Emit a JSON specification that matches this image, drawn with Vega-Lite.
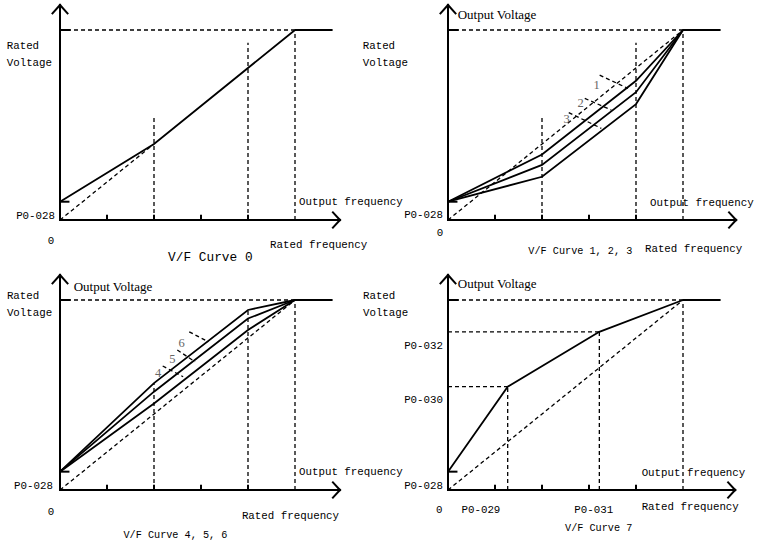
{
  "$schema": "https://vega.github.io/schema/vega-lite/v6.json",
  "autosize": {"type": "pad"},
  "padding": 0,
  "bounds": "flush",
  "background": "white",
  "config": {"view": {"stroke": null}},
  "data": {"values": [
    {"p":1,"k":"axis","x":0,"y":0,"x2":0,"y2":4.526},
    {"p":1,"k":"axis","x":0,"y":0,"x2":5.957,"y2":0},
    {"p":1,"k":"axis","x":-0.16,"y":4.35,"x2":0,"y2":4.526},
    {"p":1,"k":"axis","x":0.16,"y":4.35,"x2":0,"y2":4.526},
    {"p":1,"k":"axis","x":5.807,"y":0.16,"x2":5.957,"y2":0},
    {"p":1,"k":"axis","x":5.807,"y":-0.16,"x2":5.957,"y2":0},
    {"p":1,"k":"axis","x":1,"y":0,"x2":1,"y2":0.09},
    {"p":1,"k":"axis","x":2,"y":0,"x2":2,"y2":0.09},
    {"p":1,"k":"axis","x":3,"y":0,"x2":3,"y2":0.09},
    {"p":1,"k":"axis","x":4,"y":0,"x2":4,"y2":0.09},
    {"p":1,"k":"axis","x":0,"y":4,"x2":0.2,"y2":4},
    {"p":1,"k":"axis","x":0,"y":0.385,"x2":0.18,"y2":0.385},
    {"p":1,"k":"curve","x":5,"y":4,"x2":5.8,"y2":4},
    {"p":1,"k":"guide","x":0,"y":4,"x2":5,"y2":4},
    {"p":1,"k":"guide","x":5,"y":0,"x2":5,"y2":4},
    {"p":1,"k":"guide","x":0,"y":0,"x2":2,"y2":1.6},
    {"p":1,"k":"guide","x":2,"y":0,"x2":2,"y2":2.21},
    {"p":1,"k":"guide","x":4,"y":0,"x2":4,"y2":3.73},
    {"p":1,"id":"c0","i":0,"x":0,"y":0.385},
    {"p":1,"id":"c0","i":1,"x":2,"y":1.6},
    {"p":1,"id":"c0","i":2,"x":5,"y":4},
    {"p":1,"role":"note","x":-1.134,"y":3.66,"t":"Rated"},
    {"p":1,"role":"note","x":-1.134,"y":3.31,"t":"Voltage"},
    {"p":1,"role":"ylab","x":-0.106,"y":0.08,"t":"P0-028"},
    {"p":1,"role":"xlab","x":-0.19,"y":-0.44,"t":"0"},
    {"p":1,"role":"note","x":5.085,"y":0.385,"t":"Output frequency"},
    {"p":1,"role":"note","x":4.47,"y":-0.526,"t":"Rated frequency"},
    {"p":1,"role":"cap","x":2.3,"y":-0.77,"t":"V/F Curve 0"},

    {"p":2,"k":"axis","x":0,"y":0,"x2":0,"y2":4.526},
    {"p":2,"k":"axis","x":0,"y":0,"x2":6.13,"y2":0},
    {"p":2,"k":"axis","x":-0.16,"y":4.35,"x2":0,"y2":4.526},
    {"p":2,"k":"axis","x":0.16,"y":4.35,"x2":0,"y2":4.526},
    {"p":2,"k":"axis","x":5.98,"y":0.16,"x2":6.13,"y2":0},
    {"p":2,"k":"axis","x":5.98,"y":-0.16,"x2":6.13,"y2":0},
    {"p":2,"k":"axis","x":1,"y":0,"x2":1,"y2":0.09},
    {"p":2,"k":"axis","x":2,"y":0,"x2":2,"y2":0.09},
    {"p":2,"k":"axis","x":3,"y":0,"x2":3,"y2":0.09},
    {"p":2,"k":"axis","x":4,"y":0,"x2":4,"y2":0.09},
    {"p":2,"k":"axis","x":0,"y":4,"x2":0.2,"y2":4},
    {"p":2,"k":"axis","x":0,"y":0.385,"x2":0.18,"y2":0.385},
    {"p":2,"k":"curve","x":5,"y":4,"x2":5.8,"y2":4},
    {"p":2,"k":"guide","x":0,"y":4,"x2":5,"y2":4},
    {"p":2,"k":"guide","x":5,"y":0,"x2":5,"y2":4},
    {"p":2,"k":"guide","x":0,"y":0,"x2":5,"y2":4},
    {"p":2,"k":"guide","x":2,"y":0,"x2":2,"y2":2.21},
    {"p":2,"k":"guide","x":4,"y":0,"x2":4,"y2":3.73},
    {"p":2,"k":"guide","x":3.227,"y":3.05,"x2":3.83,"y2":2.77},
    {"p":2,"k":"guide","x":2.91,"y":2.56,"x2":3.475,"y2":2.316},
    {"p":2,"k":"guide","x":2.569,"y":2.26,"x2":3.262,"y2":1.93},
    {"p":2,"id":"c1","i":0,"x":0,"y":0.385},
    {"p":2,"id":"c1","i":1,"x":2,"y":1.38},
    {"p":2,"id":"c1","i":2,"x":4,"y":2.93},
    {"p":2,"id":"c1","i":3,"x":5,"y":4},
    {"p":2,"id":"c2","i":0,"x":0,"y":0.385},
    {"p":2,"id":"c2","i":1,"x":2,"y":1.16},
    {"p":2,"id":"c2","i":2,"x":4,"y":2.69},
    {"p":2,"id":"c2","i":3,"x":5,"y":4},
    {"p":2,"id":"c3","i":0,"x":0,"y":0.385},
    {"p":2,"id":"c3","i":1,"x":2,"y":0.91},
    {"p":2,"id":"c3","i":2,"x":4,"y":2.44},
    {"p":2,"id":"c3","i":3,"x":5,"y":4},
    {"p":2,"role":"title","x":0.206,"y":4.316,"t":"Output Voltage"},
    {"p":2,"role":"note","x":-1.815,"y":3.66,"t":"Rated"},
    {"p":2,"role":"note","x":-1.815,"y":3.31,"t":"Voltage"},
    {"p":2,"role":"ylab","x":-0.106,"y":0.1,"t":"P0-028"},
    {"p":2,"role":"xlab","x":-0.17,"y":-0.28,"t":"0"},
    {"p":2,"role":"note","x":4.3,"y":0.35,"t":"Output frequency"},
    {"p":2,"role":"note","x":4.19,"y":-0.6,"t":"Rated frequency"},
    {"p":2,"role":"cap","x":1.71,"y":-0.65,"t":"V/F Curve 1, 2, 3"},
    {"p":2,"role":"num","x":3.164,"y":2.84,"t":"1"},
    {"p":2,"role":"num","x":2.823,"y":2.47,"t":"2"},
    {"p":2,"role":"num","x":2.526,"y":2.12,"t":"3"},

    {"p":3,"k":"axis","x":0,"y":0,"x2":0,"y2":4.526},
    {"p":3,"k":"axis","x":0,"y":0,"x2":5.957,"y2":0},
    {"p":3,"k":"axis","x":-0.16,"y":4.35,"x2":0,"y2":4.526},
    {"p":3,"k":"axis","x":0.16,"y":4.35,"x2":0,"y2":4.526},
    {"p":3,"k":"axis","x":5.807,"y":0.16,"x2":5.957,"y2":0},
    {"p":3,"k":"axis","x":5.807,"y":-0.16,"x2":5.957,"y2":0},
    {"p":3,"k":"axis","x":1,"y":0,"x2":1,"y2":0.09},
    {"p":3,"k":"axis","x":2,"y":0,"x2":2,"y2":0.09},
    {"p":3,"k":"axis","x":3,"y":0,"x2":3,"y2":0.09},
    {"p":3,"k":"axis","x":4,"y":0,"x2":4,"y2":0.09},
    {"p":3,"k":"axis","x":0,"y":4,"x2":0.2,"y2":4},
    {"p":3,"k":"axis","x":0,"y":0.386,"x2":0.18,"y2":0.386},
    {"p":3,"k":"curve","x":5,"y":4,"x2":5.8,"y2":4},
    {"p":3,"k":"guide","x":0,"y":4,"x2":5,"y2":4},
    {"p":3,"k":"guide","x":5,"y":0,"x2":5,"y2":4},
    {"p":3,"k":"guide","x":0,"y":0,"x2":5,"y2":4},
    {"p":3,"k":"guide","x":2,"y":0,"x2":2,"y2":2.25},
    {"p":3,"k":"guide","x":4,"y":0,"x2":4,"y2":3.79},
    {"p":3,"k":"guide","x":2.75,"y":3.33,"x2":3.155,"y2":3.12},
    {"p":3,"k":"guide","x":2.496,"y":2.947,"x2":2.872,"y2":2.7},
    {"p":3,"k":"guide","x":2.185,"y":2.61,"x2":2.62,"y2":2.385},
    {"p":3,"id":"c4","i":0,"x":0,"y":0.386},
    {"p":3,"id":"c4","i":1,"x":2,"y":1.82},
    {"p":3,"id":"c4","i":2,"x":4,"y":3.37},
    {"p":3,"id":"c4","i":3,"x":5,"y":4},
    {"p":3,"id":"c5","i":0,"x":0,"y":0.386},
    {"p":3,"id":"c5","i":1,"x":2,"y":2.07},
    {"p":3,"id":"c5","i":2,"x":4,"y":3.61},
    {"p":3,"id":"c5","i":3,"x":5,"y":4},
    {"p":3,"id":"c6","i":0,"x":0,"y":0.386},
    {"p":3,"id":"c6","i":1,"x":2,"y":2.25},
    {"p":3,"id":"c6","i":2,"x":4,"y":3.79},
    {"p":3,"id":"c6","i":3,"x":5,"y":4},
    {"p":3,"role":"title","x":0.29,"y":4.28,"t":"Output Voltage"},
    {"p":3,"role":"note","x":-1.13,"y":4.08,"t":"Rated"},
    {"p":3,"role":"note","x":-1.13,"y":3.73,"t":"Voltage"},
    {"p":3,"role":"ylab","x":-0.15,"y":0.084,"t":"P0-028"},
    {"p":3,"role":"xlab","x":-0.19,"y":-0.46,"t":"0"},
    {"p":3,"role":"note","x":5.085,"y":0.386,"t":"Output frequency"},
    {"p":3,"role":"note","x":3.87,"y":-0.547,"t":"Rated frequency"},
    {"p":3,"role":"cap","x":1.35,"y":-0.947,"t":"V/F Curve 4, 5, 6"},
    {"p":3,"role":"num","x":2.09,"y":2.46,"t":"4"},
    {"p":3,"role":"num","x":2.39,"y":2.75,"t":"5"},
    {"p":3,"role":"num","x":2.59,"y":3.09,"t":"6"},

    {"p":4,"k":"axis","x":0,"y":0,"x2":0,"y2":4.526},
    {"p":4,"k":"axis","x":0,"y":0,"x2":6.11,"y2":0},
    {"p":4,"k":"axis","x":-0.16,"y":4.35,"x2":0,"y2":4.526},
    {"p":4,"k":"axis","x":0.16,"y":4.35,"x2":0,"y2":4.526},
    {"p":4,"k":"axis","x":5.96,"y":0.16,"x2":6.11,"y2":0},
    {"p":4,"k":"axis","x":5.96,"y":-0.16,"x2":6.11,"y2":0},
    {"p":4,"k":"axis","x":1,"y":0,"x2":1,"y2":0.09},
    {"p":4,"k":"axis","x":2,"y":0,"x2":2,"y2":0.09},
    {"p":4,"k":"axis","x":3,"y":0,"x2":3,"y2":0.09},
    {"p":4,"k":"axis","x":4,"y":0,"x2":4,"y2":0.09},
    {"p":4,"k":"axis","x":0,"y":4,"x2":0.2,"y2":4},
    {"p":4,"k":"axis","x":0,"y":0.386,"x2":0.18,"y2":0.386},
    {"p":4,"k":"curve","x":5,"y":4,"x2":5.8,"y2":4},
    {"p":4,"k":"guide","x":0,"y":4,"x2":5,"y2":4},
    {"p":4,"k":"guide","x":5,"y":0,"x2":5,"y2":4},
    {"p":4,"k":"guide","x":0,"y":0,"x2":5,"y2":4},
    {"p":4,"k":"guide","x":0,"y":3.33,"x2":3.22,"y2":3.33},
    {"p":4,"k":"guide","x":3.22,"y":0,"x2":3.22,"y2":3.33},
    {"p":4,"k":"guide","x":0,"y":2.175,"x2":1.27,"y2":2.175},
    {"p":4,"k":"guide","x":1.27,"y":0,"x2":1.27,"y2":2.175},
    {"p":4,"id":"c7","i":0,"x":0,"y":0.386},
    {"p":4,"id":"c7","i":1,"x":1.27,"y":2.175},
    {"p":4,"id":"c7","i":2,"x":3.22,"y":3.33},
    {"p":4,"id":"c7","i":3,"x":5,"y":4},
    {"p":4,"role":"title","x":0.21,"y":4.34,"t":"Output Voltage"},
    {"p":4,"role":"note","x":-1.81,"y":4.08,"t":"Rated"},
    {"p":4,"role":"note","x":-1.81,"y":3.73,"t":"Voltage"},
    {"p":4,"role":"ylab","x":-0.106,"y":3.03,"t":"P0-032"},
    {"p":4,"role":"ylab","x":-0.106,"y":1.89,"t":"P0-030"},
    {"p":4,"role":"ylab","x":-0.106,"y":0.084,"t":"P0-028"},
    {"p":4,"role":"xlab","x":-0.185,"y":-0.42,"t":"0"},
    {"p":4,"role":"xlab","x":0.7,"y":-0.42,"t":"P0-029"},
    {"p":4,"role":"xlab","x":3.1,"y":-0.42,"t":"P0-031"},
    {"p":4,"role":"note","x":4.12,"y":0.35,"t":"Output frequency"},
    {"p":4,"role":"note","x":4.12,"y":-0.365,"t":"Rated frequency"},
    {"p":4,"role":"cap","x":2.49,"y":-0.81,"t":"V/F Curve 7"}
  ]},
  "columns": 2,
  "spacing": {"row": 0, "column": 15},
  "concat": [
    {
      "width": 373, "height": 270,
      "transform": [{"filter": "datum.p == 1"}],
      "encoding": {
        "x": {"field": "x", "type": "quantitative", "axis": null, "scale": {"domain": [-1.2766, 6.6596], "nice": false, "zero": false}},
        "y": {"field": "y", "type": "quantitative", "axis": null, "scale": {"domain": [-1.0526, 4.6316], "nice": false, "zero": false}}
      },
      "layer": [
        {"transform": [{"filter": "datum.k == 'guide'"}], "mark": {"type": "rule", "color": "black", "strokeWidth": 1.3, "strokeDash": [4, 3]}, "encoding": {"x2": {"field": "x2"}, "y2": {"field": "y2"}}},
        {"transform": [{"filter": "datum.k == 'axis'"}], "mark": {"type": "rule", "color": "black", "strokeWidth": 2, "strokeCap": "square"}, "encoding": {"x2": {"field": "x2"}, "y2": {"field": "y2"}}},
        {"transform": [{"filter": "datum.k == 'curve'"}], "mark": {"type": "rule", "color": "black", "strokeWidth": 1.8}, "encoding": {"x2": {"field": "x2"}, "y2": {"field": "y2"}}},
        {"transform": [{"filter": "isValid(datum.id)"}], "mark": {"type": "line", "color": "black", "strokeWidth": 1.8}, "encoding": {"detail": {"field": "id"}, "order": {"field": "i", "type": "quantitative"}}},
        {"transform": [{"filter": "datum.role == 'note'"}], "mark": {"type": "text", "align": "left", "baseline": "middle", "font": "Liberation Mono", "fontSize": 10.8, "color": "#000"}, "encoding": {"text": {"field": "t"}}},
        {"transform": [{"filter": "datum.role == 'cap'"}], "mark": {"type": "text", "align": "left", "baseline": "middle", "font": "Liberation Mono", "fontSize": 12.8, "color": "#000"}, "encoding": {"text": {"field": "t"}}},
        {"transform": [{"filter": "datum.role == 'ylab'"}], "mark": {"type": "text", "align": "right", "baseline": "middle", "font": "Liberation Mono", "fontSize": 10.8, "color": "#000"}, "encoding": {"text": {"field": "t"}}},
        {"transform": [{"filter": "datum.role == 'xlab'"}], "mark": {"type": "text", "align": "center", "baseline": "middle", "font": "Liberation Mono", "fontSize": 10.8, "color": "#000"}, "encoding": {"text": {"field": "t"}}}
      ]
    },
    {
      "width": 373, "height": 270,
      "transform": [{"filter": "datum.p == 2"}],
      "encoding": {
        "x": {"field": "x", "type": "quantitative", "axis": null, "scale": {"domain": [-1.2766, 6.6596], "nice": false, "zero": false}},
        "y": {"field": "y", "type": "quantitative", "axis": null, "scale": {"domain": [-1.0526, 4.6316], "nice": false, "zero": false}}
      },
      "layer": [
        {"transform": [{"filter": "datum.k == 'guide'"}], "mark": {"type": "rule", "color": "black", "strokeWidth": 1.3, "strokeDash": [4, 3]}, "encoding": {"x2": {"field": "x2"}, "y2": {"field": "y2"}}},
        {"transform": [{"filter": "datum.k == 'axis'"}], "mark": {"type": "rule", "color": "black", "strokeWidth": 2, "strokeCap": "square"}, "encoding": {"x2": {"field": "x2"}, "y2": {"field": "y2"}}},
        {"transform": [{"filter": "datum.k == 'curve'"}], "mark": {"type": "rule", "color": "black", "strokeWidth": 1.8}, "encoding": {"x2": {"field": "x2"}, "y2": {"field": "y2"}}},
        {"transform": [{"filter": "isValid(datum.id)"}], "mark": {"type": "line", "color": "black", "strokeWidth": 1.8}, "encoding": {"detail": {"field": "id"}, "order": {"field": "i", "type": "quantitative"}}},
        {"transform": [{"filter": "datum.role == 'note'"}], "mark": {"type": "text", "align": "left", "baseline": "middle", "font": "Liberation Mono", "fontSize": 10.8, "color": "#000"}, "encoding": {"text": {"field": "t"}}},
        {"transform": [{"filter": "datum.role == 'cap'"}], "mark": {"type": "text", "align": "left", "baseline": "middle", "font": "Liberation Mono", "fontSize": 10.2, "color": "#000"}, "encoding": {"text": {"field": "t"}}},
        {"transform": [{"filter": "datum.role == 'ylab'"}], "mark": {"type": "text", "align": "right", "baseline": "middle", "font": "Liberation Mono", "fontSize": 10.8, "color": "#000"}, "encoding": {"text": {"field": "t"}}},
        {"transform": [{"filter": "datum.role == 'xlab'"}], "mark": {"type": "text", "align": "center", "baseline": "middle", "font": "Liberation Mono", "fontSize": 10.8, "color": "#000"}, "encoding": {"text": {"field": "t"}}},
        {"transform": [{"filter": "datum.role == 'title'"}], "mark": {"type": "text", "align": "left", "baseline": "middle", "font": "Liberation Serif", "fontSize": 13, "color": "#000"}, "encoding": {"text": {"field": "t"}}},
        {"transform": [{"filter": "datum.role == 'num'"}], "mark": {"type": "text", "align": "center", "baseline": "middle", "font": "Liberation Serif", "fontSize": 12.5, "color": "#666"}, "encoding": {"text": {"field": "t"}}}
      ]
    },
    {
      "width": 373, "height": 270,
      "transform": [{"filter": "datum.p == 3"}],
      "encoding": {
        "x": {"field": "x", "type": "quantitative", "axis": null, "scale": {"domain": [-1.2766, 6.6596], "nice": false, "zero": false}},
        "y": {"field": "y", "type": "quantitative", "axis": null, "scale": {"domain": [-1.0526, 4.6316], "nice": false, "zero": false}}
      },
      "layer": [
        {"transform": [{"filter": "datum.k == 'guide'"}], "mark": {"type": "rule", "color": "black", "strokeWidth": 1.3, "strokeDash": [4, 3]}, "encoding": {"x2": {"field": "x2"}, "y2": {"field": "y2"}}},
        {"transform": [{"filter": "datum.k == 'axis'"}], "mark": {"type": "rule", "color": "black", "strokeWidth": 2, "strokeCap": "square"}, "encoding": {"x2": {"field": "x2"}, "y2": {"field": "y2"}}},
        {"transform": [{"filter": "datum.k == 'curve'"}], "mark": {"type": "rule", "color": "black", "strokeWidth": 1.8}, "encoding": {"x2": {"field": "x2"}, "y2": {"field": "y2"}}},
        {"transform": [{"filter": "isValid(datum.id)"}], "mark": {"type": "line", "color": "black", "strokeWidth": 1.8}, "encoding": {"detail": {"field": "id"}, "order": {"field": "i", "type": "quantitative"}}},
        {"transform": [{"filter": "datum.role == 'note'"}], "mark": {"type": "text", "align": "left", "baseline": "middle", "font": "Liberation Mono", "fontSize": 10.8, "color": "#000"}, "encoding": {"text": {"field": "t"}}},
        {"transform": [{"filter": "datum.role == 'cap'"}], "mark": {"type": "text", "align": "left", "baseline": "middle", "font": "Liberation Mono", "fontSize": 10.2, "color": "#000"}, "encoding": {"text": {"field": "t"}}},
        {"transform": [{"filter": "datum.role == 'ylab'"}], "mark": {"type": "text", "align": "right", "baseline": "middle", "font": "Liberation Mono", "fontSize": 10.8, "color": "#000"}, "encoding": {"text": {"field": "t"}}},
        {"transform": [{"filter": "datum.role == 'xlab'"}], "mark": {"type": "text", "align": "center", "baseline": "middle", "font": "Liberation Mono", "fontSize": 10.8, "color": "#000"}, "encoding": {"text": {"field": "t"}}},
        {"transform": [{"filter": "datum.role == 'title'"}], "mark": {"type": "text", "align": "left", "baseline": "middle", "font": "Liberation Serif", "fontSize": 13, "color": "#000"}, "encoding": {"text": {"field": "t"}}},
        {"transform": [{"filter": "datum.role == 'num'"}], "mark": {"type": "text", "align": "center", "baseline": "middle", "font": "Liberation Serif", "fontSize": 12.5, "color": "#666"}, "encoding": {"text": {"field": "t"}}}
      ]
    },
    {
      "width": 373, "height": 270,
      "transform": [{"filter": "datum.p == 4"}],
      "encoding": {
        "x": {"field": "x", "type": "quantitative", "axis": null, "scale": {"domain": [-1.2766, 6.6596], "nice": false, "zero": false}},
        "y": {"field": "y", "type": "quantitative", "axis": null, "scale": {"domain": [-1.0526, 4.6316], "nice": false, "zero": false}}
      },
      "layer": [
        {"transform": [{"filter": "datum.k == 'guide'"}], "mark": {"type": "rule", "color": "black", "strokeWidth": 1.3, "strokeDash": [4, 3]}, "encoding": {"x2": {"field": "x2"}, "y2": {"field": "y2"}}},
        {"transform": [{"filter": "datum.k == 'axis'"}], "mark": {"type": "rule", "color": "black", "strokeWidth": 2, "strokeCap": "square"}, "encoding": {"x2": {"field": "x2"}, "y2": {"field": "y2"}}},
        {"transform": [{"filter": "datum.k == 'curve'"}], "mark": {"type": "rule", "color": "black", "strokeWidth": 1.8}, "encoding": {"x2": {"field": "x2"}, "y2": {"field": "y2"}}},
        {"transform": [{"filter": "isValid(datum.id)"}], "mark": {"type": "line", "color": "black", "strokeWidth": 1.8}, "encoding": {"detail": {"field": "id"}, "order": {"field": "i", "type": "quantitative"}}},
        {"transform": [{"filter": "datum.role == 'note'"}], "mark": {"type": "text", "align": "left", "baseline": "middle", "font": "Liberation Mono", "fontSize": 10.8, "color": "#000"}, "encoding": {"text": {"field": "t"}}},
        {"transform": [{"filter": "datum.role == 'cap'"}], "mark": {"type": "text", "align": "left", "baseline": "middle", "font": "Liberation Mono", "fontSize": 10.2, "color": "#000"}, "encoding": {"text": {"field": "t"}}},
        {"transform": [{"filter": "datum.role == 'ylab'"}], "mark": {"type": "text", "align": "right", "baseline": "middle", "font": "Liberation Mono", "fontSize": 10.8, "color": "#000"}, "encoding": {"text": {"field": "t"}}},
        {"transform": [{"filter": "datum.role == 'xlab'"}], "mark": {"type": "text", "align": "center", "baseline": "middle", "font": "Liberation Mono", "fontSize": 10.8, "color": "#000"}, "encoding": {"text": {"field": "t"}}},
        {"transform": [{"filter": "datum.role == 'title'"}], "mark": {"type": "text", "align": "left", "baseline": "middle", "font": "Liberation Serif", "fontSize": 13, "color": "#000"}, "encoding": {"text": {"field": "t"}}}
      ]
    }
  ]
}
